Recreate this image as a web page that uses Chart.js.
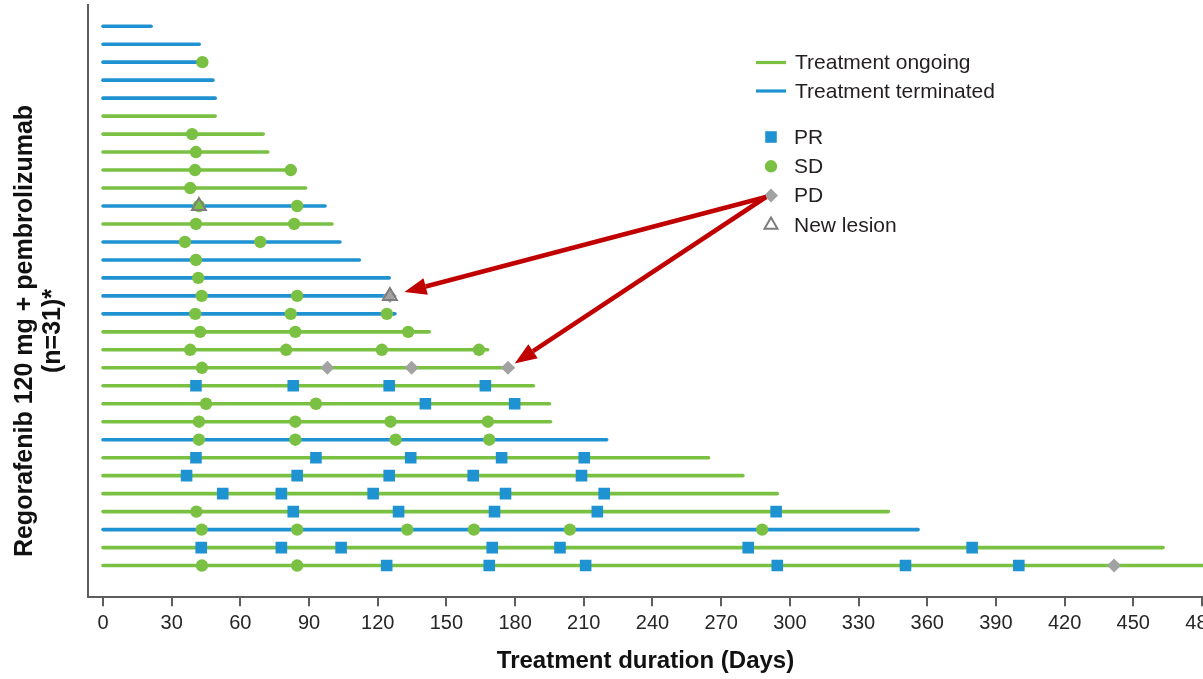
<!DOCTYPE html>
<html>
<head>
<meta charset="utf-8">
<title>Swimmer plot</title>
<script src="https://cdn.jsdelivr.net/npm/chart.js@4.4.1/dist/chart.umd.min.js"></script>
<style>
    html, body { margin: 0; padding: 0; background: #ffffff; }
    #wrap { position: relative; width: 1203px; height: 679px; }
</style>
</head>
<body>
<div id="wrap"><canvas id="swimmer"></canvas></div>
<script>
"use strict";

// one entry per patient, top row first
const rowEnds = [21, 42, 43, 48, 49, 49, 70, 72, 84, 88.5, 97, 100, 103.5, 112, 125, 126, 127.5,
                 142.5, 168, 179, 188, 195, 195.5, 220, 264.5, 279.5, 294.5, 343, 356, 463, 490];
// O = treatment ongoing, T = treatment terminated
const rowStatus = ["T", "T", "T", "T", "T", "O", "O", "O", "O", "O", "T", "O", "T", "T", "T", "T",
                   "T", "O", "O", "O", "O", "O", "O", "T", "O", "O", "O", "O", "T", "O", "O"];

// response assessments (days) per row
const prDays = [
    [], [], [], [], [], [], [], [], [], [], [], [], [], [], [], [], [], [], [], [],
    [40.6, 83.1, 125, 167],
    [140.8, 179.8],
    [],
    [],
    [40.6, 93, 134.4, 174.1, 210.2],
    [36.5, 84.8, 125, 161.7, 209],
    [52.3, 77.9, 118, 175.8, 218.9],
    [83.1, 129.1, 171, 215.9, 294],
    [],
    [42.9, 77.9, 104, 170, 199.6, 281.8, 379.6],
    [123.9, 168.7, 210.8, 294.5, 350.5, 400]
];
const sdDays = [
    [], [], [43.4], [], [], [], [38.9], [40.6], [40.2, 82], [38.1],
    [41.9, 84.8], [40.6, 83.5], [35.8, 68.7], [40.6], [41.6], [43.1, 84.8],
    [40.3, 82, 124], [42.4, 84, 133.3], [38.1, 80, 121.8, 164.2], [43.2],
    [], [45, 93], [41.9, 84, 125.6, 168.1], [41.9, 84, 127.8, 168.7],
    [], [], [], [40.8], [43.1, 84.8, 132.9, 162, 203.9, 287.9], [], [43.2, 84.8]
];
const pdDays = [
    [], [], [], [], [], [], [], [], [], [], [], [], [], [], [], [125.3], [], [], [],
    [98, 134.8, 176.9], [], [], [], [], [], [], [], [], [], [], [441.6]
];
const newLesionDays = [
    [], [], [], [], [], [], [], [], [], [], [41.9], [], [], [], [], [125.3], [], [], [],
    [], [], [], [], [], [], [], [], [], [], [], []
];

const xTicks = [0, 30, 60, 90, 120, 150, 180, 210, 240, 270, 300, 330, 360, 390, 420, 450, 480];

const legendLines = ["Treatment ongoing", "Treatment terminated"];
const legendMarks = ["PR", "SD", "PD", "New lesion"];
const arrowTargets = [[16, 125.3], [20, 176.9]];   // [row, day] of the highlighted PD events

const FONT  = "'Liberation Sans', Arial, sans-serif";
const GREEN = "#7ac143";
const BLUE  = "#1f93d1";
const GREY  = "#a2a2a2";
const TRI   = "#7d7d7d";
const RED   = "#c00000";
const AXIS  = "#5e5e5e";

const markStyles = {
    PR:           { pointStyle: "rect",     radius: 8.2, bg: BLUE,  border: BLUE, bw: 0 },
    SD:           { pointStyle: "circle",   radius: 6.2, bg: GREEN, border: GREEN, bw: 0 },
    PD:           { pointStyle: "rectRot",  radius: 7,   bg: GREY,  border: GREY, bw: 0 },
    "New lesion": { pointStyle: "triangle", radius: 8,   bg: "rgba(0,0,0,0)", border: TRI, bw: 2 }
};

function flatten(byRow) {
    const out = [];
    byRow.forEach((days, i) => days.forEach(d => out.push({ x: d, y: i + 1 })));
    return out;
}

const lineSets = rowEnds.map((end, i) => ({
    label: "row" + (i + 1),
    data: [{ x: 0, y: i + 1 }, { x: end, y: i + 1 }],
    showLine: true,
    borderColor: rowStatus[i] === "O" ? GREEN : BLUE,
    borderWidth: 3.6,
    borderCapStyle: "round",
    pointRadius: 0,
    order: 10
}));

function markSet(name, byRow, order) {
    const s = markStyles[name];
    return {
        label: name,
        data: flatten(byRow),
        showLine: false,
        pointStyle: s.pointStyle,
        pointRadius: s.radius,
        pointBackgroundColor: s.bg,
        pointBorderColor: s.border,
        pointBorderWidth: s.bw,
        order: order
    };
}

// legend in the upper right, drawn by hand to keep the gap between the two groups
const legendPlugin = {
    id: "swimLegend",
    afterDraw(chart) {
        const ctx = chart.ctx;
        ctx.save();
        ctx.font = "21px " + FONT;
        ctx.textBaseline = "middle";
        ctx.textAlign = "left";

        const lineColors = [GREEN, BLUE];
        legendLines.forEach((txt, i) => {
            const y = 62.5 + i * 28.5;
            ctx.strokeStyle = lineColors[i];
            ctx.lineWidth = 3.2;
            ctx.beginPath();
            ctx.moveTo(756, y);
            ctx.lineTo(786, y);
            ctx.stroke();
            ctx.fillStyle = "#231f20";
            ctx.fillText(txt, 795, y + 1);
        });

        legendMarks.forEach((txt, i) => {
            const y = 137 + i * 29.3;
            const s = markStyles[txt];
            ctx.fillStyle = s.pointStyle === "triangle" ? "#ffffff" : s.bg;
            ctx.strokeStyle = s.border;
            ctx.lineWidth = s.bw;
            Chart.helpers.drawPoint(ctx, {
                pointStyle: s.pointStyle,
                radius: s.pointStyle === "triangle" ? 7.5 : s.radius,
                rotation: 0,
                borderWidth: s.bw
            }, 771, y);
            ctx.fillStyle = "#231f20";
            ctx.fillText(txt, 794, y + 1);
        });
        ctx.restore();
    }
};

// red arrows from the PD legend entry to the two highlighted PD events
const arrowPlugin = {
    id: "pdArrows",
    afterDraw(chart) {
        const { ctx, scales: { x, y } } = chart;
        const sx = 766, sy = 197;
        const gaps = [15, 8];
        ctx.save();
        ctx.strokeStyle = RED;
        ctx.fillStyle = RED;
        ctx.lineWidth = 4.5;
        arrowTargets.forEach(([row, day], i) => {
            const px = x.getPixelForValue(day);
            const py = y.getPixelForValue(row);
            const dx = sx - px, dy = sy - py;
            const len = Math.hypot(dx, dy);
            const ux = dx / len, uy = dy / len;
            const tx = px + ux * gaps[i], ty = py + uy * gaps[i];
            const headLen = 22, headHalf = 8.5;
            const bx = tx + ux * headLen, by = ty + uy * headLen;
            ctx.beginPath();
            ctx.moveTo(sx, sy);
            ctx.lineTo(bx, by);
            ctx.stroke();
            ctx.beginPath();
            ctx.moveTo(tx, ty);
            ctx.lineTo(bx - uy * headHalf, by + ux * headHalf);
            ctx.lineTo(bx + uy * headHalf, by - ux * headHalf);
            ctx.closePath();
            ctx.fill();
        });
        ctx.restore();
    }
};

// rotated two-line y title
const yTitlePlugin = {
    id: "yTitle",
    afterDraw(chart) {
        const ctx = chart.ctx;
        ctx.save();
        ctx.font = "bold 25px " + FONT;
        ctx.fillStyle = "#111111";
        ctx.textAlign = "center";
        ctx.textBaseline = "middle";
        [["Regorafenib 120 mg + pembrolizumab", 25], ["(n=31)*", 53]].forEach(([txt, cx]) => {
            ctx.save();
            ctx.translate(cx, 331);
            ctx.rotate(-Math.PI / 2);
            ctx.fillText(txt, 0, 0);
            ctx.restore();
        });
        ctx.restore();
    }
};

new Chart(document.getElementById("swimmer"), {
    type: "scatter",
    data: {
        datasets: [
            ...lineSets,
            markSet("PR", prDays, 4),
            markSet("SD", sdDays, 3),
            markSet("PD", pdDays, 2),
            markSet("New lesion", newLesionDays, 1)
        ]
    },
    options: {
        responsive: true,
        maintainAspectRatio: false,
        animation: false,
        devicePixelRatio: 1,
        events: [],
        layout: { autoPadding: false, padding: { left: 88, top: 5, right: 0, bottom: 0 } },
        plugins: {
            legend: { display: false },
            tooltip: { enabled: false }
        },
        scales: {
            x: {
                type: "linear",
                min: -6.55,
                max: 480.44,
                afterBuildTicks: s => { s.ticks = xTicks.map(v => ({ value: v })); },
                afterFit: s => { s.paddingLeft = 0; s.paddingRight = 0; },
                border: { display: true, color: AXIS, width: 2 },
                grid: { drawOnChartArea: false, drawTicks: true, tickLength: 9, color: AXIS, lineWidth: 2 },
                ticks: {
                    color: "#262626",
                    font: { family: FONT, size: 20 },
                    padding: 5,
                    maxRotation: 0,
                    autoSkip: false
                },
                title: {
                    display: true,
                    text: "Treatment duration (Days)",
                    color: "#111111",
                    font: { family: FONT, size: 24, weight: "bold" },
                    padding: { top: 7, bottom: 3 }
                }
            },
            y: {
                type: "linear",
                reverse: true,
                min: -0.18,
                max: 32.76,
                border: { display: true, color: AXIS, width: 2 },
                grid: { display: false, drawTicks: false },
                ticks: { display: false }
            }
        }
    },
    plugins: [legendPlugin, arrowPlugin, yTitlePlugin]
});
</script>
</body>
</html>
